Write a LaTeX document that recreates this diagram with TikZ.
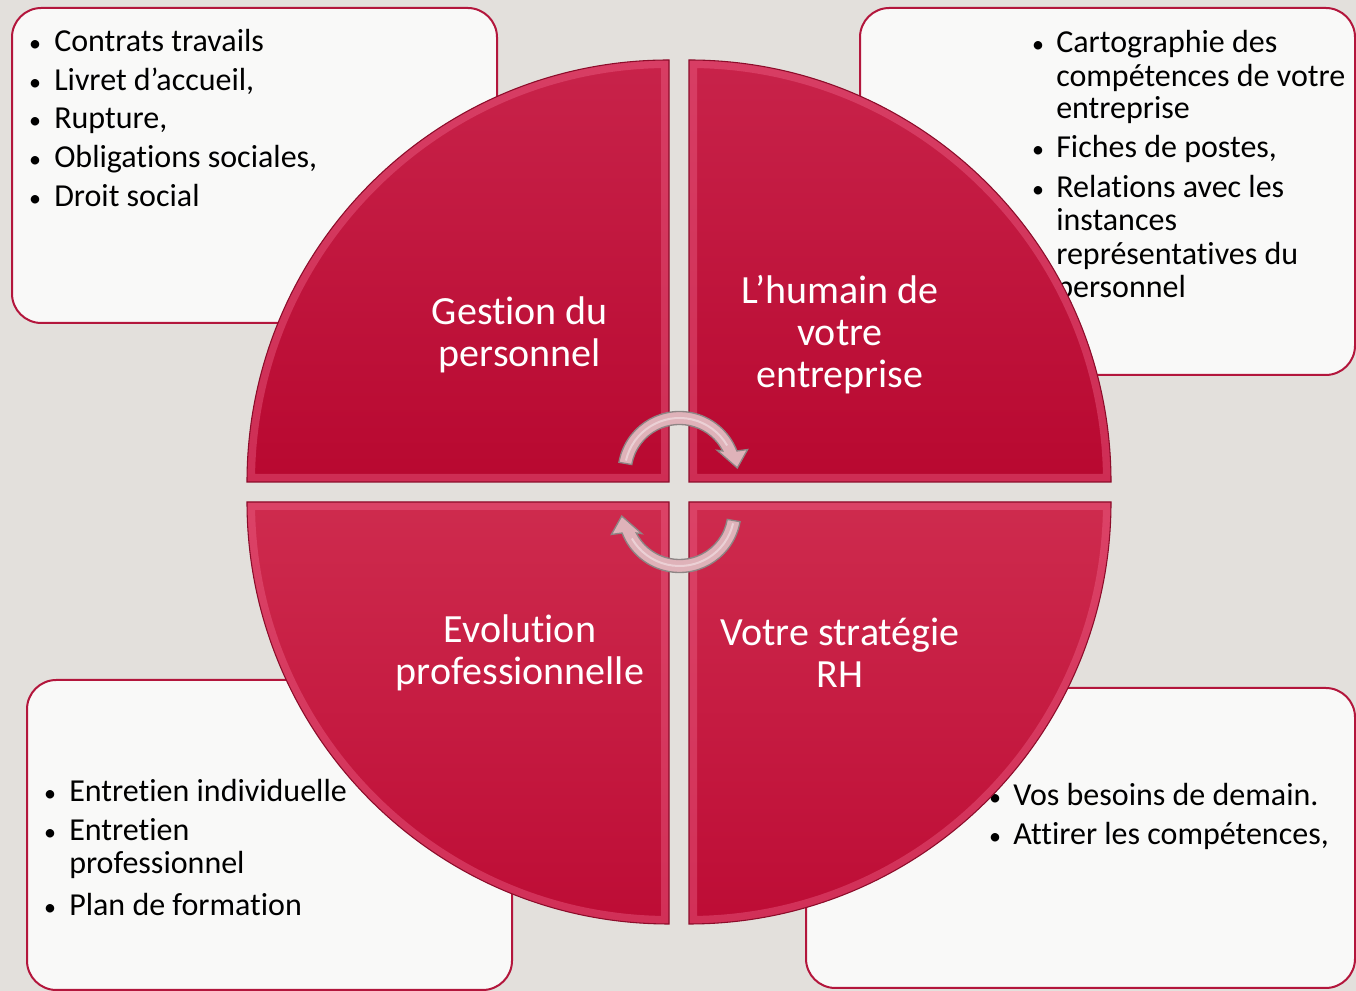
\documentclass[tikz,border=0pt]{standalone}
\usepackage{fontspec}
\setmainfont[Ligatures=NoCommon]{Carlito}
\usetikzlibrary{positioning}

\definecolor{fondgris}{HTML}{E3E0DC}
\definecolor{cadre}{HTML}{B3163C}
\definecolor{fondcadre}{HTML}{F9F9F8}
\definecolor{carminhaut}{HTML}{C8234A}
\definecolor{carminbas}{HTML}{B80830}
\definecolor{rosehaut}{HTML}{CE2B4E}
\definecolor{rosebas}{HTML}{BD0C35}
\definecolor{biseau}{HTML}{F0668C}
\definecolor{bordsombre}{HTML}{8C0C2A}
\definecolor{flecherose}{HTML}{DFB2B9}
\definecolor{flechebord}{HTML}{8E8585}

\tikzset{
  cadreinfo/.style={draw=cadre, line width=1.5pt, fill=fondcadre, rounded corners=22pt},
  puce/.style={anchor=base, inner sep=0pt, font=\fontsize{18}{22}\selectfont},
  texteliste/.style={anchor=base west, inner sep=0pt, font=\fontsize{24}{29}\selectfont},
  titrequart/.style={text=white, align=center, font=\fontsize{30}{31.5}\selectfont},
  fleche/.style={draw=flechebord, line width=1pt, fill=flecherose},
  cyclefleche/.pic={
    \draw[fleche] (170:61.5) arc[start angle=170, end angle=21, radius=61.5]
      -- (19:72) -- (5:58) -- (31:44) -- (27:48.5)
      arc[start angle=27, end angle=170, radius=48.5] -- cycle;
    \draw[white, opacity=.4, line width=1.5pt] (167:55) arc[start angle=167, end angle=30, radius=55];
  }
}

\begin{document}
\begin{tikzpicture}[x=0.75pt, y=0.75pt]
\useasboundingbox (0,0) rectangle (1356,991);
\fill[fondgris] (0,0) rectangle (1356,991);

% cadres de texte
\draw[cadreinfo] (12,983) rectangle (497,668);
\draw[cadreinfo] (860,983) rectangle (1355,616);
\draw[cadreinfo] (27,311) rectangle (512,1);
\draw[cadreinfo] (806,303) rectangle (1355,3);

% gestion du personnel
\foreach \y/\t [count=\i] in {939/Contrats travails, 900.5/{Livret d’accueil,}, 862/{Rupture,},
    823/{Obligations sociales,}, 784.5/Droit social} {
  \node[puce] (pg\i) at (35,\y) {\textbullet};
  \node[texteliste] (tg\i) at (54,\y) {\t};
}
% humain
\foreach \y [count=\i] in {938, 833, 793} {
  \node[puce] (ph\i) at (1038,\y) {\textbullet};
}
\foreach \y/\t [count=\i] in {938/Cartographie des, 904/compétences de votre, 872/entreprise,
    833/{Fiches de postes,}, 793/Relations avec les, 760/instances, 726/représentatives du, 693/personnel} {
  \node[texteliste] (th\i) at (1056,\y) {\t};
}
% evolution
\foreach \y [count=\i] in {189.3, 150.3, 75.3} {
  \node[puce] (pe\i) at (50,\y) {\textbullet};
}
\foreach \y/\t [count=\i] in {189.3/Entretien individuelle, 150.3/Entretien, 117/professionnel, 75.3/Plan de formation} {
  \node[texteliste] (te\i) at (69,\y) {\t};
}
% strategie
\foreach \y/\t [count=\i] in {185/Vos besoins de demain., 146/{Attirer les compétences,}} {
  \node[puce] (ps\i) at (995,\y) {\textbullet};
  \node[texteliste] (ts\i) at (1013,\y) {\t};
}

% les quatre quarts
\foreach \cx/\cy/\a/\haut/\bas in {669/509/90/carminhaut/carminbas, 689/509/0/carminhaut/carminbas,
    669/489/180/rosehaut/rosebas, 689/489/270/rosehaut/rosebas} {
  \shade[top color=\haut, bottom color=\bas] (\cx,\cy) -- ++(\a:422)
    arc[start angle=\a, end angle=\a+90, radius=422] -- cycle;
  \begin{scope}
    \clip (\cx,\cy) -- ++(\a:422) arc[start angle=\a, end angle=\a+90, radius=422] -- cycle;
    \draw[biseau, opacity=.4, line width=12pt] (\cx,\cy) -- ++(\a:422)
      arc[start angle=\a, end angle=\a+90, radius=422] -- cycle;
  \end{scope}
  \draw[bordsombre, line width=.8pt] (\cx,\cy) -- ++(\a:422)
    arc[start angle=\a, end angle=\a+90, radius=422] -- cycle;
}

\node[titrequart] (gestion) at (520,656) {Gestion du\\personnel};
\node[titrequart] (humain) at (840,656) {L’humain de\\votre\\entreprise};
\node[titrequart] (evolution) at (520,338) {Evolution\\professionnelle};
\node[titrequart] (strategie) at (840,338) {Votre stratégie\\RH};

% fleches du cycle
\pic at (679.5,518) {cyclefleche};
\pic[rotate=180] at (679.5,480) {cyclefleche};
\end{tikzpicture}
\end{document}
